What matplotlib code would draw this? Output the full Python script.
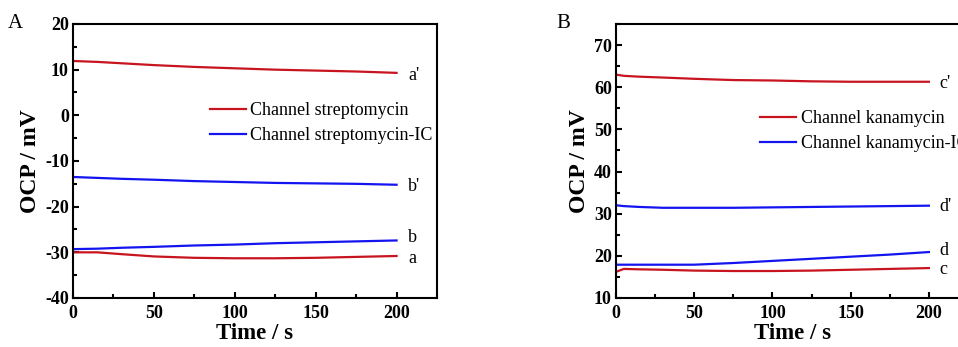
import numpy as np
import matplotlib
matplotlib.use("Agg")
import matplotlib.pyplot as plt
from matplotlib.ticker import MultipleLocator

plt.rcParams['font.family'] = ['Liberation Serif', 'DejaVu Serif']
plt.rcParams['axes.unicode_minus'] = False

# panel A data (time in s, OCP in mV)
t_a = [0, 15, 30, 50, 75, 100, 125, 150, 175, 200]
a_prime = [11.9, 11.7, 11.4, 11.0, 10.6, 10.3, 10.0, 9.8, 9.6, 9.3]
b_prime = [-13.5, -13.7, -13.9, -14.1, -14.4, -14.6, -14.8, -14.9, -15.0, -15.2]
b_vals = [-29.3, -29.2, -29.0, -28.8, -28.5, -28.3, -28.0, -27.8, -27.6, -27.4]
a_vals = [-30.0, -30.0, -30.4, -30.9, -31.2, -31.3, -31.3, -31.2, -31.0, -30.8]

# panel B data
t_b = [0, 5, 15, 30, 50, 75, 100, 125, 150, 175, 200]
c_prime = [63.0, 62.7, 62.5, 62.3, 62.0, 61.7, 61.6, 61.4, 61.3, 61.3, 61.3]
d_prime = [32.0, 31.8, 31.6, 31.4, 31.4, 31.4, 31.5, 31.6, 31.7, 31.8, 31.9]
d_vals = [17.9, 17.9, 17.9, 17.9, 17.9, 18.3, 18.8, 19.3, 19.8, 20.3, 20.9]
c_vals = [16.2, 16.9, 16.8, 16.7, 16.5, 16.4, 16.4, 16.5, 16.7, 16.9, 17.1]

RED = '#c8141e'
BLUE = '#1414f0'

fig = plt.figure(figsize=(9.58, 3.47), dpi=100)
axA = fig.add_axes([73/958, 1-298/347, 364/958, 274/347])
axB = fig.add_axes([616/958, 1-298/347, 352/958, 274/347])


def style_axis(ax, ylim, ymaj):
    ax.set_xlim(0, 225)
    ax.set_ylim(*ylim)
    ax.set_xticks([0, 50, 100, 150, 200])
    ax.xaxis.set_minor_locator(MultipleLocator(25))
    ax.yaxis.set_major_locator(MultipleLocator(ymaj))
    ax.yaxis.set_minor_locator(MultipleLocator(ymaj / 2))
    ax.tick_params(which='both', direction='in', top=False, right=False, width=1.5)
    ax.tick_params(which='major', length=4, labelsize=13, pad=3)
    ax.tick_params(axis='x', which='major', pad=5)
    ax.tick_params(which='minor', length=3)
    for lab in ax.get_xticklabels() + ax.get_yticklabels():
        lab.set_fontweight('bold')
    for sp in ax.spines.values():
        sp.set_linewidth(1.5)
    ax.set_xlabel('Time / s', fontsize=16.5, fontweight='bold', labelpad=1)
    ax.set_ylabel('OCP / mV', fontsize=17, fontweight='bold', labelpad=3)


leg_kw = dict(loc='upper left', frameon=False, fontsize=13, handlelength=2.0,
              handletextpad=0.25, labelspacing=0.45, borderaxespad=0, borderpad=0)

axA.plot(t_a, a_prime, color=RED, lw=1.6)
axA.plot(t_a, b_prime, color=BLUE, lw=1.6)
axA.plot(t_a, b_vals, color=BLUE, lw=1.6)
axA.plot(t_a, a_vals, color=RED, lw=1.6)
style_axis(axA, (-40, 20), 10)
for lbl, y in [("a'", a_prime[-1] - 0.6), ("b'", b_prime[-1] - 0.4), ("b", b_vals[-1] + 0.6), ("a", a_vals[-1] - 0.6)]:
    axA.text(207, y, lbl, fontsize=13, va='center', ha='left')
lA = [axA.plot([], [], color=RED, lw=1.6, label='Channel streptomycin')[0],
      axA.plot([], [], color=BLUE, lw=1.6, label='Channel streptomycin-IC')[0]]
axA.legend(handles=lA, bbox_to_anchor=(0.375, 0.715), **leg_kw)
fig.text(8/958, 1-24/347, 'A', fontsize=15, va='center')

axB.plot(t_b, c_prime, color=RED, lw=1.6)
axB.plot(t_b, d_prime, color=BLUE, lw=1.6)
axB.plot(t_b, d_vals, color=BLUE, lw=1.6)
axB.plot(t_b, c_vals, color=RED, lw=1.6)
style_axis(axB, (10, 75), 10)
for lbl, y in [("c'", c_prime[-1] - 0.3), ("d'", d_prime[-1] - 0.3), ("d", d_vals[-1] + 0.3), ("c", c_vals[-1] - 0.4)]:
    axB.text(207, y, lbl, fontsize=13, va='center', ha='left')
lB = [axB.plot([], [], color=RED, lw=1.6, label='Channel kanamycin')[0],
      axB.plot([], [], color=BLUE, lw=1.6, label='Channel kanamycin-IC')[0]]
axB.legend(handles=lB, bbox_to_anchor=(0.41, 0.685), **leg_kw)
fig.text(556/958, 1-24/347, 'B', fontsize=15, va='center')

fig.savefig('out.png', dpi=100)
